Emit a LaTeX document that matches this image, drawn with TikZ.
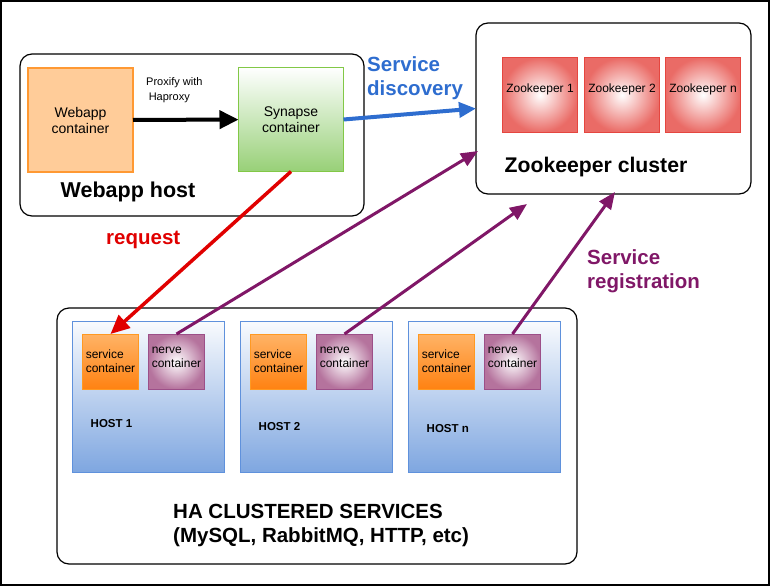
\documentclass[tikz,border=0pt]{standalone}
\usepackage{fontspec}
\setmainfont{Liberation Sans}
\usetikzlibrary{arrows.meta}

\definecolor{webfill}{HTML}{FFCC99}
\definecolor{webline}{HTML}{FF9933}
\definecolor{synline}{HTML}{82C846}
\definecolor{synfill}{HTML}{97D077}
\definecolor{zkfill}{HTML}{EA6B66}
\definecolor{zkline}{HTML}{E5463F}
\definecolor{hostfill}{HTML}{7EA6E0}
\definecolor{hostline}{HTML}{5F91DC}
\definecolor{svctop}{HTML}{FFB366}
\definecolor{svcbottom}{HTML}{FF8212}
\definecolor{svcline}{HTML}{FF9922}
\definecolor{nervefill}{HTML}{B5739D}
\definecolor{nerveline}{HTML}{9C4F88}
\definecolor{discblue}{HTML}{2E6DCF}
\definecolor{reqred}{HTML}{E00000}
\definecolor{regpurple}{HTML}{801767}

\begin{document}
\begin{tikzpicture}[x=1pt, y=-1pt,
    groupbox/.style={draw=black, line width=1.2pt, rounded corners=12pt,
      inner sep=0pt, outer sep=0pt},
    webbox/.style={draw=webline, line width=1.5pt, fill=webfill,
      minimum width=105pt, minimum height=104pt, inner sep=0pt, outer sep=0pt,
      align=center, font=\fontsize{14}{16}\selectfont},
    synbox/.style={webbox, draw=synline, line width=1pt, top color=white,
      bottom color=synfill},
    zkbox/.style={draw=zkline, line width=1pt, inner color=white,
      outer color=zkfill, minimum width=75pt, minimum height=75pt,
      inner sep=0pt, outer sep=0pt},
    hostbox/.style={draw=hostline, line width=1pt, top color=white!95!hostfill,
      bottom color=hostfill, minimum width=152pt, minimum height=151pt,
      inner sep=0pt, outer sep=0pt},
    svcbox/.style={draw=svcline, line width=1pt, top color=svctop,
      bottom color=svcbottom, minimum width=56pt, minimum height=55pt,
      inner sep=0pt, outer sep=0pt, align=left,
      font=\fontsize{12}{14}\selectfont},
    nervebox/.style={draw=nerveline, line width=1pt, inner color=white,
      outer color=nervefill, minimum width=56pt, minimum height=55pt,
      inner sep=0pt, outer sep=0pt},
    smalltext/.style={inner sep=0pt, font=\fontsize{12}{14}\selectfont},
    biglabel/.style={inner sep=0pt, align=left,
      font=\bfseries\fontsize{20.5}{24}\selectfont},
    hostlabel/.style={inner sep=0pt, anchor=west,
      font=\bfseries\fontsize{11.5}{14}\selectfont},
    flow/.style={line width=3pt, -{Triangle[length=17pt,width=14pt]}}]

  \useasboundingbox (0,0) rectangle (770,586);

  % Draw the frame
  \draw[line width=2pt] (1,1) rectangle (769,584.8);

  % Draw the webapp host
  \node[groupbox, minimum width=344pt, minimum height=162pt] (webhost) at (192,135) {};
  \node[webbox] (webapp) at (80.5,120) {Webapp\\container};
  \node[synbox] (synapse) at (291,119.5) {Synapse\\container};
  \node[biglabel, font=\bfseries\fontsize{21.5}{24}\selectfont] (webhostlabel)
    at (128,192) {Webapp host};
  \node[inner sep=0pt, anchor=west, align=left,
    font=\fontsize{11}{15}\selectfont] (proxify) at (146,90)
    {Proxify with\\\hspace*{2.6pt}Haproxy};

  % Draw the zookeeper cluster
  \node[groupbox, minimum width=275pt, minimum height=171pt] (cluster) at (613.5,108.5) {};
  \foreach \x/\n in {540/1, 622/2, 703/n} {
    \node[zkbox] (zk\n) at (\x,95) {};
    \node[smalltext] at ([yshift=6pt]zk\n.center) {Zookeeper \n};
  }
  \node[biglabel, font=\bfseries\fontsize{21.2}{24}\selectfont] (clusterlabel)
    at (596,167) {Zookeeper cluster};

  % Draw the clustered services
  \node[groupbox, minimum width=520pt, minimum height=256pt] (services) at (317,436) {};
  \foreach \x/\n/\y in {148.5/1/424, 316.5/2/427, 484.5/n/429} {
    \node[hostbox] (host\n) at (\x,397) {};
    \node[svcbox] (svc\n) at (\x-38,361.5) {service\\container};
    \node[nervebox] (nerve\n) at (\x+28,361.5) {};
    \node[smalltext, align=left] at ([yshift=4pt]nerve\n.center) {nerve\\container};
    \node[hostlabel] at (\x-58,\y) {HOST \n};
  }
  \node[biglabel, anchor=west] (serviceslabel) at (173,525)
    {HA CLUSTERED SERVICES\\(MySQL, RabbitMQ, HTTP, etc)};

  % Draw the arrows
  \draw[line width=4pt, -{Triangle[length=19pt,width=18pt]}] (webapp) -- (synapse);
  \draw[line width=4pt, discblue, -{Triangle[length=17pt,width=15pt]}]
    (synapse.east) -- (cluster.west);
  \draw[line width=3.5pt, reqred, -{Triangle[length=19pt,width=17pt]}]
    (synapse.south) -- (svc1.north);

  \coordinate (reg1) at (478,151);
  \coordinate (reg2) at (527,204);
  \coordinate (regn) at (615,192);
  \draw[flow, regpurple] (nerve1.north) -- (reg1);
  \draw[flow, regpurple] (nerve2.north) -- (reg2);
  \draw[flow, regpurple] (nerven.north) -- (regn);

  % Add the labels
  \node[biglabel, anchor=west, text=discblue] (discovery) at (367,78)
    {Service\\discovery};
  \node[biglabel, anchor=west, text=reqred] (request) at (106,240) {request};
  \node[biglabel, anchor=west, text=regpurple] (registration) at (587,271)
    {Service\\registration};
\end{tikzpicture}
\end{document}
